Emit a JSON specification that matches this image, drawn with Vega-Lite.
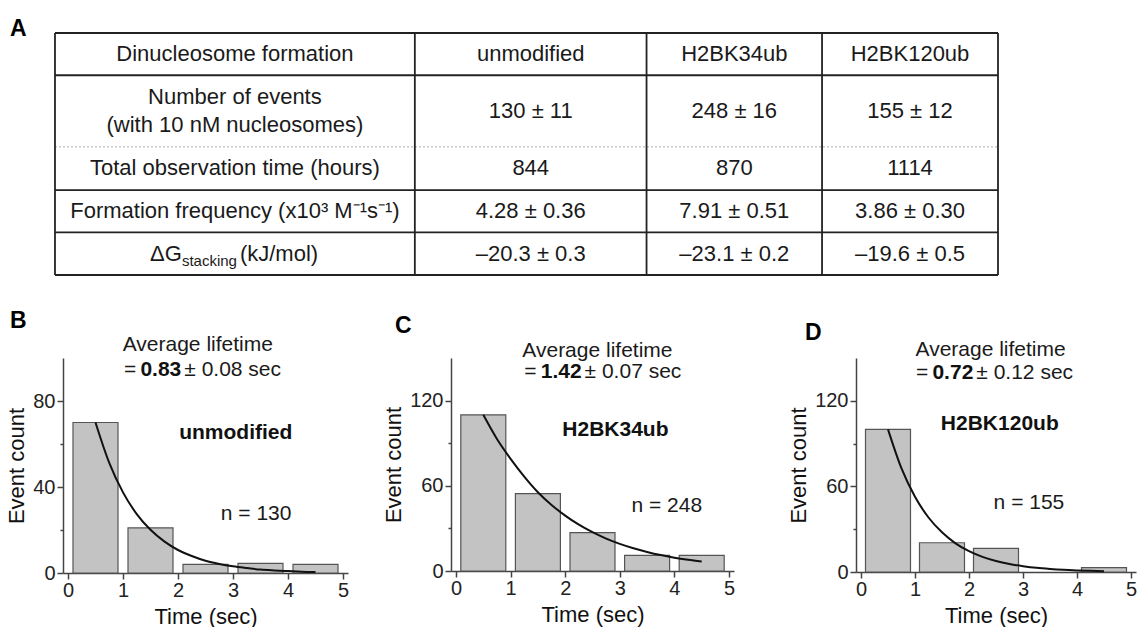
{
  "$schema": "https://vega.github.io/schema/vega-lite/v6.json",
  "padding": {"left": 5, "top": 18, "right": 0, "bottom": 0},
  "config": {
    "font": "Liberation Sans",
    "view": {"stroke": null},
    "axis": {"domainColor": "#444", "domainWidth": 1.5, "tickColor": "#444", "tickWidth": 1.5, "labelFontSize": 20, "labelColor": "#222", "titleFontSize": 22, "titleFontWeight": "normal", "titleColor": "#111", "grid": false, "labelOverlap": false, "labelFlush": false},
    "title": {"fontSize": 23, "fontWeight": "bold", "color": "#000", "anchor": "start", "frame": "group", "baseline": "alphabetic"}
  },
  "datasets": {
    "tableText": [
      {"c": 19.08, "r": 8.73, "text": "Dinucleosome formation"},
      {"c": 50.45, "r": 8.73, "text": "unmodified"},
      {"c": 72.04, "r": 8.73, "text": "H2BK34ub"},
      {"c": 90.67, "r": 8.73, "text": "H2BK120ub"},
      {"c": 19.08, "r": 26.5, "text": "Number of events\n(with 10 nM nucleosomes)"},
      {"c": 50.45, "r": 32.26, "text": "130 ± 11"},
      {"c": 72.04, "r": 32.26, "text": "248 ± 16"},
      {"c": 90.67, "r": 32.26, "text": "155 ± 12"},
      {"c": 19.08, "r": 55.99, "text": "Total observation time (hours)"},
      {"c": 50.45, "r": 55.99, "text": "844"},
      {"c": 72.04, "r": 55.99, "text": "870"},
      {"c": 90.67, "r": 55.99, "text": "1114"},
      {"c": 19.08, "r": 73.65, "text": "Formation frequency (x10³ M⁻¹s⁻¹)"},
      {"c": 50.45, "r": 73.65, "text": "4.28 ± 0.36"},
      {"c": 72.04, "r": 73.65, "text": "7.91 ± 0.51"},
      {"c": 90.67, "r": 73.65, "text": "3.86 ± 0.30"},
      {"c": 50.45, "r": 91.19, "text": "–20.3 ± 0.3"},
      {"c": 72.04, "r": 91.19, "text": "–23.1 ± 0.2"},
      {"c": 90.67, "r": 91.19, "text": "–19.6 ± 0.5"}
    ],
    "dg": [
      {"part": "main", "c": 19.08, "r": 91.19, "text": "ΔG"},
      {"part": "sub", "c": 19.08, "r": 91.19, "text": "stacking"},
      {"part": "unit", "c": 19.08, "r": 91.19, "text": "(kJ/mol)"}
    ],
    "hlines": [
      {"y": 0, "kind": "solid"}, {"y": 17.46, "kind": "solid"}, {"y": 47.05, "kind": "dotted"},
      {"y": 64.92, "kind": "solid"}, {"y": 82.38, "kind": "solid"}, {"y": 100, "kind": "solid"}
    ],
    "vlines": [{"x": 0}, {"x": 38.16}, {"x": 62.73}, {"x": 81.34}, {"x": 100}],
    "bars": [
      {"panel": "B", "time": 0.5, "count": 70}, {"panel": "B", "time": 1.5, "count": 21}, {"panel": "B", "time": 2.5, "count": 4}, {"panel": "B", "time": 3.5, "count": 4.5}, {"panel": "B", "time": 4.5, "count": 4},
      {"panel": "C", "time": 0.5, "count": 110}, {"panel": "C", "time": 1.5, "count": 54.5}, {"panel": "C", "time": 2.5, "count": 27}, {"panel": "C", "time": 3.5, "count": 11}, {"panel": "C", "time": 4.5, "count": 11},
      {"panel": "D", "time": 0.5, "count": 100}, {"panel": "D", "time": 1.5, "count": 20.5}, {"panel": "D", "time": 2.5, "count": 16.5}, {"panel": "D", "time": 4.5, "count": 3}
    ],
    "fit": [
      {"panel": "B", "time": 0.5, "count": 70}, {"panel": "B", "time": 0.75, "count": 51.2}, {"panel": "B", "time": 1, "count": 37.5}, {"panel": "B", "time": 1.25, "count": 27.4}, {"panel": "B", "time": 1.5, "count": 20.1}, {"panel": "B", "time": 1.75, "count": 14.7}, {"panel": "B", "time": 2, "count": 10.7}, {"panel": "B", "time": 2.25, "count": 7.9}, {"panel": "B", "time": 2.5, "count": 5.7}, {"panel": "B", "time": 2.75, "count": 4.2}, {"panel": "B", "time": 3, "count": 3.1}, {"panel": "B", "time": 3.25, "count": 2.3}, {"panel": "B", "time": 3.5, "count": 1.6}, {"panel": "B", "time": 3.75, "count": 1.2}, {"panel": "B", "time": 4, "count": 0.9}, {"panel": "B", "time": 4.25, "count": 0.6}, {"panel": "B", "time": 4.5, "count": 0.5},
      {"panel": "C", "time": 0.5, "count": 110}, {"panel": "C", "time": 0.75, "count": 93}, {"panel": "C", "time": 1, "count": 79}, {"panel": "C", "time": 1.25, "count": 66.5}, {"panel": "C", "time": 1.5, "count": 55.5}, {"panel": "C", "time": 1.75, "count": 46.5}, {"panel": "C", "time": 2, "count": 39}, {"panel": "C", "time": 2.25, "count": 32.6}, {"panel": "C", "time": 2.5, "count": 27.3}, {"panel": "C", "time": 2.75, "count": 22.8}, {"panel": "C", "time": 3, "count": 19.1}, {"panel": "C", "time": 3.25, "count": 16}, {"panel": "C", "time": 3.5, "count": 13.4}, {"panel": "C", "time": 3.75, "count": 11.2}, {"panel": "C", "time": 4, "count": 9.4}, {"panel": "C", "time": 4.25, "count": 7.9}, {"panel": "C", "time": 4.5, "count": 6.6},
      {"panel": "D", "time": 0.5, "count": 100}, {"panel": "D", "time": 0.75, "count": 72.6}, {"panel": "D", "time": 1, "count": 52.7}, {"panel": "D", "time": 1.25, "count": 38.2}, {"panel": "D", "time": 1.5, "count": 27.8}, {"panel": "D", "time": 1.75, "count": 20.1}, {"panel": "D", "time": 2, "count": 14.6}, {"panel": "D", "time": 2.25, "count": 10.6}, {"panel": "D", "time": 2.5, "count": 7.7}, {"panel": "D", "time": 2.75, "count": 5.6}, {"panel": "D", "time": 3, "count": 4.1}, {"panel": "D", "time": 3.25, "count": 2.9}, {"panel": "D", "time": 3.5, "count": 2.1}, {"panel": "D", "time": 3.75, "count": 1.5}, {"panel": "D", "time": 4, "count": 1.1}, {"panel": "D", "time": 4.25, "count": 0.8}, {"panel": "D", "time": 4.5, "count": 0.6}
    ],
    "ann": [
      {"panel": "B", "kind": "center", "text": "Average lifetime", "time": 2.36, "count": 103.3},
      {"panel": "B", "kind": "eq", "text": "=", "time": 2.06, "count": 91.6},
      {"panel": "B", "kind": "bold", "text": "0.83", "time": 2.06, "count": 91.6},
      {"panel": "B", "kind": "rest", "text": "± 0.08 sec", "time": 2.06, "count": 91.6},
      {"panel": "B", "kind": "name", "text": "unmodified", "time": 3.05, "count": 62.3},
      {"panel": "B", "kind": "center", "text": "n = 130", "time": 3.42, "count": 24.6},
      {"panel": "C", "kind": "center", "text": "Average lifetime", "time": 2.59, "count": 151},
      {"panel": "C", "kind": "eq", "text": "=", "time": 2.3, "count": 136},
      {"panel": "C", "kind": "bold", "text": "1.42", "time": 2.3, "count": 136},
      {"panel": "C", "kind": "rest", "text": "± 0.07 sec", "time": 2.3, "count": 136},
      {"panel": "C", "kind": "name", "text": "H2BK34ub", "time": 2.92, "count": 94.8},
      {"panel": "C", "kind": "center", "text": "n = 248", "time": 3.86, "count": 41.2},
      {"panel": "D", "kind": "center", "text": "Average lifetime", "time": 2.4, "count": 151.4},
      {"panel": "D", "kind": "eq", "text": "=", "time": 2.08, "count": 135},
      {"panel": "D", "kind": "bold", "text": "0.72", "time": 2.08, "count": 135},
      {"panel": "D", "kind": "rest", "text": "± 0.12 sec", "time": 2.08, "count": 135},
      {"panel": "D", "kind": "name", "text": "H2BK120ub", "time": 2.57, "count": 99.8},
      {"panel": "D", "kind": "center", "text": "n = 155", "time": 3.11, "count": 44}
    ]
  },
  "spacing": 83,
  "bounds": "flush",
  "vconcat": [
    {
      "width": 935,
      "height": 242,
      "title": {"text": "A", "offset": -9, "dx": -53},
      "layer": [
        {
          "data": {"name": "hlines"},
          "transform": [{"filter": "datum.kind === 'solid'"}],
          "mark": {"type": "rule", "color": "#222", "strokeWidth": 1.8},
          "encoding": {
            "y": {"field": "y", "type": "quantitative", "scale": {"domain": [0, 100], "reverse": true, "nice": false, "zero": false}, "axis": null},
            "x": {"datum": 0, "type": "quantitative", "scale": {"domain": [0.85, 100], "nice": false, "zero": false}, "axis": null},
            "x2": {"datum": 100}
          }
        },
        {
          "data": {"name": "hlines"},
          "transform": [{"filter": "datum.kind === 'dotted'"}],
          "mark": {"type": "rule", "color": "#aaa", "strokeWidth": 1, "strokeDash": [2, 2]},
          "encoding": {
            "y": {"field": "y", "type": "quantitative"},
            "x": {"datum": 0, "type": "quantitative"},
            "x2": {"datum": 100}
          }
        },
        {
          "data": {"name": "vlines"},
          "mark": {"type": "rule", "color": "#222", "strokeWidth": 1.8},
          "encoding": {
            "x": {"field": "x", "type": "quantitative"},
            "y": {"datum": 0, "type": "quantitative"},
            "y2": {"datum": 100}
          }
        },
        {
          "data": {"name": "tableText"},
          "mark": {"type": "text", "fontSize": 22, "align": "center", "baseline": "middle", "color": "#1a1a1a", "lineBreak": "\n", "lineHeight": 28},
          "encoding": {
            "x": {"field": "c", "type": "quantitative"},
            "y": {"field": "r", "type": "quantitative"},
            "text": {"field": "text"}
          }
        },
        {
          "data": {"name": "dg"},
          "transform": [{"filter": "datum.part === 'main'"}],
          "mark": {"type": "text", "fontSize": 22, "align": "right", "baseline": "middle", "color": "#1a1a1a", "dx": -53},
          "encoding": {"x": {"field": "c", "type": "quantitative"}, "y": {"field": "r", "type": "quantitative"}, "text": {"field": "text"}}
        },
        {
          "data": {"name": "dg"},
          "transform": [{"filter": "datum.part === 'sub'"}],
          "mark": {"type": "text", "fontSize": 15, "align": "left", "baseline": "middle", "color": "#1a1a1a", "dx": -53, "dy": 7},
          "encoding": {"x": {"field": "c", "type": "quantitative"}, "y": {"field": "r", "type": "quantitative"}, "text": {"field": "text"}}
        },
        {
          "data": {"name": "dg"},
          "transform": [{"filter": "datum.part === 'unit'"}],
          "mark": {"type": "text", "fontSize": 22, "align": "left", "baseline": "middle", "color": "#1a1a1a", "dx": 5},
          "encoding": {"x": {"field": "c", "type": "quantitative"}, "y": {"field": "r", "type": "quantitative"}, "text": {"field": "text"}}
        }
      ]
    },
    {
      "spacing": 0,
      "bounds": "flush",
      "hconcat": [
        {
          "width": 285,
          "height": 215,
          "title": {"text": "B", "offset": 1, "dx": -53},
          "layer": [
            {
              "data": {"name": "bars"},
              "transform": [{"filter": "datum.panel === 'B'"}],
              "mark": {"type": "bar", "orient": "vertical", "size": 45, "fill": "#c3c3c3", "stroke": "#555", "strokeWidth": 1.2},
              "encoding": {
                "x": {"field": "time", "type": "quantitative", "scale": {"domain": [0, 5], "nice": false, "zero": false},
                  "axis": {"title": "Time (sec)", "values": [0, 0.5, 1, 1.5, 2, 2.5, 3, 3.5, 4, 4.5, 5], "labelExpr": "datum.value % 1 ? '' : '' + datum.value", "tickSize": {"condition": {"test": "datum.value % 1 !== 0", "value": 3}, "value": 6}, "labelPadding": 1, "titlePadding": 6}},
                "y": {"field": "count", "type": "quantitative", "scale": {"domain": [0, 100], "nice": false},
                  "axis": {"title": "Event count", "values": [0, 20, 40, 60, 80], "labelExpr": "datum.value % 40 ? '' : '' + datum.value", "tickSize": {"condition": {"test": "datum.value % 40 !== 0", "value": 3}, "value": 6}, "labelPadding": 2, "titlePadding": 4}}
              }
            },
            {
              "data": {"name": "fit"},
              "transform": [{"filter": "datum.panel === 'B'"}],
              "mark": {"type": "line", "color": "#111", "strokeWidth": 2, "interpolate": "monotone"},
              "encoding": {"x": {"field": "time", "type": "quantitative"}, "y": {"field": "count", "type": "quantitative"}}
            },
            {
              "data": {"name": "ann"},
              "transform": [{"filter": "datum.panel === 'B' && datum.kind === 'center'"}],
              "mark": {"type": "text", "fontSize": 21, "align": "center", "baseline": "alphabetic", "color": "#1a1a1a"},
              "encoding": {"x": {"field": "time", "type": "quantitative"}, "y": {"field": "count", "type": "quantitative"}, "text": {"field": "text"}}
            },
            {
              "data": {"name": "ann"},
              "transform": [{"filter": "datum.panel === 'B' && datum.kind === 'name'"}],
              "mark": {"type": "text", "fontSize": 21, "fontWeight": "bold", "align": "center", "baseline": "alphabetic", "color": "#111"},
              "encoding": {"x": {"field": "time", "type": "quantitative"}, "y": {"field": "count", "type": "quantitative"}, "text": {"field": "text"}}
            },
            {
              "data": {"name": "ann"},
              "transform": [{"filter": "datum.panel === 'B' && datum.kind === 'bold'"}],
              "mark": {"type": "text", "fontSize": 21, "fontWeight": "bold", "align": "right", "baseline": "alphabetic", "color": "#111"},
              "encoding": {"x": {"field": "time", "type": "quantitative"}, "y": {"field": "count", "type": "quantitative"}, "text": {"field": "text"}}
            },
            {
              "data": {"name": "ann"},
              "transform": [{"filter": "datum.panel === 'B' && datum.kind === 'eq'"}],
              "mark": {"type": "text", "fontSize": 21, "align": "right", "baseline": "alphabetic", "color": "#1a1a1a", "dx": -45},
              "encoding": {"x": {"field": "time", "type": "quantitative"}, "y": {"field": "count", "type": "quantitative"}, "text": {"field": "text"}}
            },
            {
              "data": {"name": "ann"},
              "transform": [{"filter": "datum.panel === 'B' && datum.kind === 'rest'"}],
              "mark": {"type": "text", "fontSize": 21, "align": "left", "baseline": "alphabetic", "color": "#1a1a1a", "dx": 3},
              "encoding": {"x": {"field": "time", "type": "quantitative"}, "y": {"field": "count", "type": "quantitative"}, "text": {"field": "text"}}
            }
          ]
        },
        {
          "width": 103,
          "height": 215,
          "data": {"values": []},
          "mark": "point"
        },
        {
          "width": 283,
          "height": 213,
          "title": {"text": "C", "offset": 2, "dx": -56},
          "layer": [
            {
              "data": {"name": "bars"},
              "transform": [{"filter": "datum.panel === 'C'"}],
              "mark": {"type": "bar", "orient": "vertical", "size": 45, "fill": "#c3c3c3", "stroke": "#555", "strokeWidth": 1.2},
              "encoding": {
                "x": {"field": "time", "type": "quantitative", "scale": {"domain": [0, 5], "nice": false, "zero": false},
                  "axis": {"title": "Time (sec)", "values": [0, 0.5, 1, 1.5, 2, 2.5, 3, 3.5, 4, 4.5, 5], "labelExpr": "datum.value % 1 ? '' : '' + datum.value", "tickSize": {"condition": {"test": "datum.value % 1 !== 0", "value": 3}, "value": 6}, "labelPadding": 1, "titlePadding": 6}},
                "y": {"field": "count", "type": "quantitative", "scale": {"domain": [0, 150], "nice": false},
                  "axis": {"title": "Event count", "values": [0, 30, 60, 90, 120], "labelExpr": "datum.value % 60 ? '' : '' + datum.value", "tickSize": {"condition": {"test": "datum.value % 60 !== 0", "value": 3}, "value": 6}, "labelPadding": 2, "titlePadding": 4}}
              }
            },
            {
              "data": {"name": "fit"},
              "transform": [{"filter": "datum.panel === 'C'"}],
              "mark": {"type": "line", "color": "#111", "strokeWidth": 2, "interpolate": "monotone"},
              "encoding": {"x": {"field": "time", "type": "quantitative"}, "y": {"field": "count", "type": "quantitative"}}
            },
            {
              "data": {"name": "ann"},
              "transform": [{"filter": "datum.panel === 'C' && datum.kind === 'center'"}],
              "mark": {"type": "text", "fontSize": 21, "align": "center", "baseline": "alphabetic", "color": "#1a1a1a"},
              "encoding": {"x": {"field": "time", "type": "quantitative"}, "y": {"field": "count", "type": "quantitative"}, "text": {"field": "text"}}
            },
            {
              "data": {"name": "ann"},
              "transform": [{"filter": "datum.panel === 'C' && datum.kind === 'name'"}],
              "mark": {"type": "text", "fontSize": 21, "fontWeight": "bold", "align": "center", "baseline": "alphabetic", "color": "#111"},
              "encoding": {"x": {"field": "time", "type": "quantitative"}, "y": {"field": "count", "type": "quantitative"}, "text": {"field": "text"}}
            },
            {
              "data": {"name": "ann"},
              "transform": [{"filter": "datum.panel === 'C' && datum.kind === 'bold'"}],
              "mark": {"type": "text", "fontSize": 21, "fontWeight": "bold", "align": "right", "baseline": "alphabetic", "color": "#111"},
              "encoding": {"x": {"field": "time", "type": "quantitative"}, "y": {"field": "count", "type": "quantitative"}, "text": {"field": "text"}}
            },
            {
              "data": {"name": "ann"},
              "transform": [{"filter": "datum.panel === 'C' && datum.kind === 'eq'"}],
              "mark": {"type": "text", "fontSize": 21, "align": "right", "baseline": "alphabetic", "color": "#1a1a1a", "dx": -45},
              "encoding": {"x": {"field": "time", "type": "quantitative"}, "y": {"field": "count", "type": "quantitative"}, "text": {"field": "text"}}
            },
            {
              "data": {"name": "ann"},
              "transform": [{"filter": "datum.panel === 'C' && datum.kind === 'rest'"}],
              "mark": {"type": "text", "fontSize": 21, "align": "left", "baseline": "alphabetic", "color": "#1a1a1a", "dx": 3},
              "encoding": {"x": {"field": "time", "type": "quantitative"}, "y": {"field": "count", "type": "quantitative"}, "text": {"field": "text"}}
            }
          ]
        },
        {
          "width": 122,
          "height": 215,
          "data": {"values": []},
          "mark": "point"
        },
        {
          "width": 280,
          "height": 214,
          "title": {"text": "D", "offset": -6, "dx": -51},
          "layer": [
            {
              "data": {"name": "bars"},
              "transform": [{"filter": "datum.panel === 'D'"}],
              "mark": {"type": "bar", "orient": "vertical", "size": 45, "fill": "#c3c3c3", "stroke": "#555", "strokeWidth": 1.2},
              "encoding": {
                "x": {"field": "time", "type": "quantitative", "scale": {"domain": [0, 5], "nice": false, "zero": false},
                  "axis": {"title": "Time (sec)", "values": [0, 0.5, 1, 1.5, 2, 2.5, 3, 3.5, 4, 4.5, 5], "labelExpr": "datum.value % 1 ? '' : '' + datum.value", "tickSize": {"condition": {"test": "datum.value % 1 !== 0", "value": 3}, "value": 6}, "labelPadding": 1, "titlePadding": 6}},
                "y": {"field": "count", "type": "quantitative", "scale": {"domain": [0, 150], "nice": false},
                  "axis": {"title": "Event count", "values": [0, 30, 60, 90, 120], "labelExpr": "datum.value % 60 ? '' : '' + datum.value", "tickSize": {"condition": {"test": "datum.value % 60 !== 0", "value": 3}, "value": 6}, "labelPadding": 2, "titlePadding": 4}}
              }
            },
            {
              "data": {"name": "fit"},
              "transform": [{"filter": "datum.panel === 'D'"}],
              "mark": {"type": "line", "color": "#111", "strokeWidth": 2, "interpolate": "monotone"},
              "encoding": {"x": {"field": "time", "type": "quantitative"}, "y": {"field": "count", "type": "quantitative"}}
            },
            {
              "data": {"name": "ann"},
              "transform": [{"filter": "datum.panel === 'D' && datum.kind === 'center'"}],
              "mark": {"type": "text", "fontSize": 21, "align": "center", "baseline": "alphabetic", "color": "#1a1a1a"},
              "encoding": {"x": {"field": "time", "type": "quantitative"}, "y": {"field": "count", "type": "quantitative"}, "text": {"field": "text"}}
            },
            {
              "data": {"name": "ann"},
              "transform": [{"filter": "datum.panel === 'D' && datum.kind === 'name'"}],
              "mark": {"type": "text", "fontSize": 21, "fontWeight": "bold", "align": "center", "baseline": "alphabetic", "color": "#111"},
              "encoding": {"x": {"field": "time", "type": "quantitative"}, "y": {"field": "count", "type": "quantitative"}, "text": {"field": "text"}}
            },
            {
              "data": {"name": "ann"},
              "transform": [{"filter": "datum.panel === 'D' && datum.kind === 'bold'"}],
              "mark": {"type": "text", "fontSize": 21, "fontWeight": "bold", "align": "right", "baseline": "alphabetic", "color": "#111"},
              "encoding": {"x": {"field": "time", "type": "quantitative"}, "y": {"field": "count", "type": "quantitative"}, "text": {"field": "text"}}
            },
            {
              "data": {"name": "ann"},
              "transform": [{"filter": "datum.panel === 'D' && datum.kind === 'eq'"}],
              "mark": {"type": "text", "fontSize": 21, "align": "right", "baseline": "alphabetic", "color": "#1a1a1a", "dx": -45},
              "encoding": {"x": {"field": "time", "type": "quantitative"}, "y": {"field": "count", "type": "quantitative"}, "text": {"field": "text"}}
            },
            {
              "data": {"name": "ann"},
              "transform": [{"filter": "datum.panel === 'D' && datum.kind === 'rest'"}],
              "mark": {"type": "text", "fontSize": 21, "align": "left", "baseline": "alphabetic", "color": "#1a1a1a", "dx": 3},
              "encoding": {"x": {"field": "time", "type": "quantitative"}, "y": {"field": "count", "type": "quantitative"}, "text": {"field": "text"}}
            }
          ]
        }
      ]
    }
  ]
}
